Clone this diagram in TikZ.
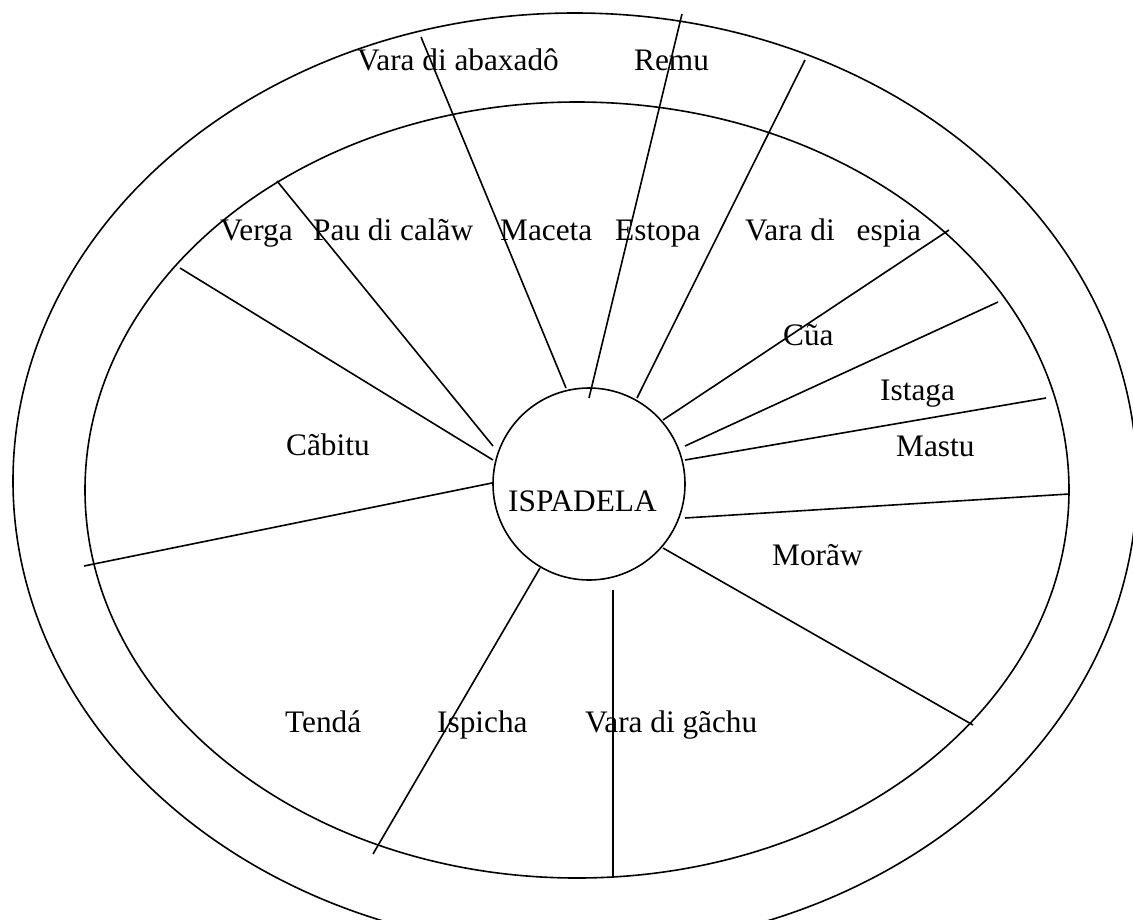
\documentclass[tikz,border=0pt]{standalone}
\usepackage{fontspec}
\setmainfont{Liberation Serif}
\begin{document}
\begin{tikzpicture}[x=1pt,y=-1pt,
  ring/.style={line width=1.6pt},
  spoke/.style={line width=1.6pt},
  lbl/.style={anchor=base west,inner sep=0pt,font=\fontsize{31.3}{36}\selectfont}]
\clip (0,0) rectangle (1133,919);
\useasboundingbox (0,0) rectangle (1133,919);
\fill[white] (0,0) rectangle (1133,919);
% rings
\draw[ring] (575,481) ellipse [x radius=562pt, y radius=468pt];
\draw[ring] (577,490) ellipse [x radius=492pt, y radius=388pt];
\node[draw,circle,line width=1.6pt,minimum size=192pt,inner sep=0pt] (hub) at (589,484) {};
% spoke end points
\coordinate (a1) at (493,460); \coordinate (b1) at (180,268);
\coordinate (a2) at (493,446); \coordinate (b2) at (277,181);
\coordinate (a3) at (492,483); \coordinate (b3) at (84,566);
\coordinate (a4) at (566,388); \coordinate (b4) at (421,37);
\coordinate (a5) at (589,398); \coordinate (b5) at (682,14);
\coordinate (a6) at (637,398); \coordinate (b6) at (805,60);
\coordinate (a7) at (663,420); \coordinate (b7) at (949,230);
\coordinate (a8) at (685,446); \coordinate (b8) at (998,302);
\coordinate (a9) at (685,460); \coordinate (b9) at (1046,398);
\coordinate (a10) at (685,518); \coordinate (b10) at (1069,494);
\coordinate (a11) at (663,548); \coordinate (b11) at (973,725);
\coordinate (a12) at (613,590); \coordinate (b12) at (613,878);
\coordinate (a13) at (540,568); \coordinate (b13) at (373,854);
\foreach \i in {1,...,13} \draw[spoke] (a\i) -- (b\i);
% labels
\node[lbl] (t1) at (357,70) {Vara di abaxadô};
\node[lbl] (t2) at (634,70) {Remu};
\node[lbl] (t3) at (220,240) {Verga};
\node[lbl] (t4) at (313,240) {Pau di calãw};
\node[lbl] (t5) at (500,240) {Maceta};
\node[lbl] (t6) at (615,240) {Estopa};
\node[lbl] (t7) at (745,240) {Vara di\hspace{22pt}espia};
\node[lbl] (t8) at (783,345) {Cũa};
\node[lbl] (t9) at (880,400) {Istaga};
\node[lbl] (t10) at (896,456) {Mastu};
\node[lbl] (t11) at (286,455) {Cãbitu};
\node[lbl] (t12) at (508,511) {ISPADELA};
\node[lbl] (t13) at (772,565) {Morãw};
\node[lbl] (t14) at (285,732) {Tendá};
\node[lbl] (t15) at (437,732) {Ispicha};
\node[lbl] (t16) at (585,732) {Vara di gãchu};
\end{tikzpicture}
\end{document}
